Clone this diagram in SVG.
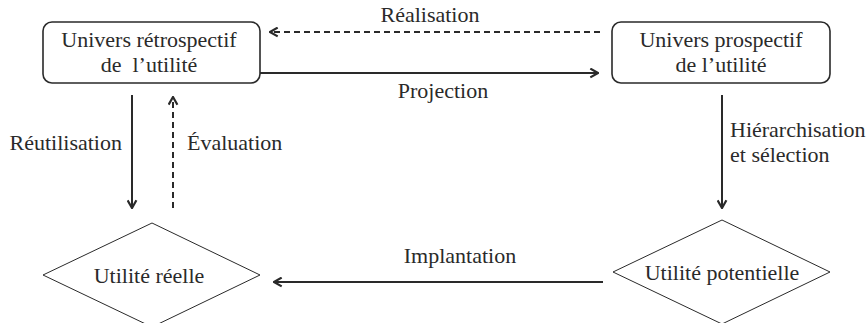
<svg xmlns="http://www.w3.org/2000/svg" width="867" height="323" viewBox="0 0 867 323">
<style>
text{font-family:"Liberation Serif","DejaVu Serif",serif;font-size:22px;fill:#2a2a2a}
.box{fill:#fff;stroke:#2a2a2a;stroke-width:1.6}
.dia{fill:#fff;stroke:#2a2a2a;stroke-width:1}
.c{fill:none;stroke:#2a2a2a;stroke-width:2}
.d{stroke-dasharray:6,4}
</style>
<defs>
<marker id="ah" viewBox="0 0 10 10" refX="9" refY="5" markerWidth="5.5" markerHeight="5.5" orient="auto" markerUnits="strokeWidth">
<path d="M2,1 L9,5 L2,9" fill="none" stroke="#2a2a2a" stroke-width="2"/>
</marker>
</defs>
<g id="connectors">
<line class="c d" x1="600" y1="32" x2="270" y2="32" marker-end="url(#ah)"/>
<line class="c" x1="260" y1="73" x2="598" y2="73" marker-end="url(#ah)"/>
<line class="c" x1="132" y1="95" x2="132" y2="208" marker-end="url(#ah)"/>
<line class="c d" x1="173" y1="208" x2="173" y2="97" marker-end="url(#ah)"/>
<line class="c" x1="722" y1="95" x2="722" y2="208" marker-end="url(#ah)"/>
<line class="c" x1="603" y1="282" x2="274" y2="282" marker-end="url(#ah)"/>
<text x="430" y="22" text-anchor="middle">Réalisation</text>
<text x="443" y="98" text-anchor="middle">Projection</text>
<text x="122" y="150" text-anchor="end">Réutilisation</text>
<text x="187" y="150">Évaluation</text>
<text x="730" y="137">Hiérarchisation</text>
<text x="730" y="162">et sélection</text>
<text x="460" y="263" text-anchor="middle">Implantation</text>
</g>
<g id="n-retro">
<rect class="box" x="43" y="22" width="217" height="61" rx="9"/>
<text x="149" y="47" text-anchor="middle">Univers rétrospectif</text>
<text x="149" y="72" text-anchor="middle" xml:space="preserve">de  l’utilité</text>
</g>
<g id="n-prosp">
<rect class="box" x="612" y="22" width="218" height="61" rx="9"/>
<text x="721" y="47" text-anchor="middle">Univers prospectif</text>
<text x="721" y="72" text-anchor="middle">de l’utilité</text>
</g>
<g id="n-reelle">
<polygon class="dia" points="152,223 260,275 152,327 43,275"/>
<text x="149" y="283" text-anchor="middle">Utilité réelle</text>
</g>
<g id="n-potentielle">
<polygon class="dia" points="722,220 830,272 722,324 613,272"/>
<text x="722" y="280" text-anchor="middle">Utilité potentielle</text>
</g>
</svg>
